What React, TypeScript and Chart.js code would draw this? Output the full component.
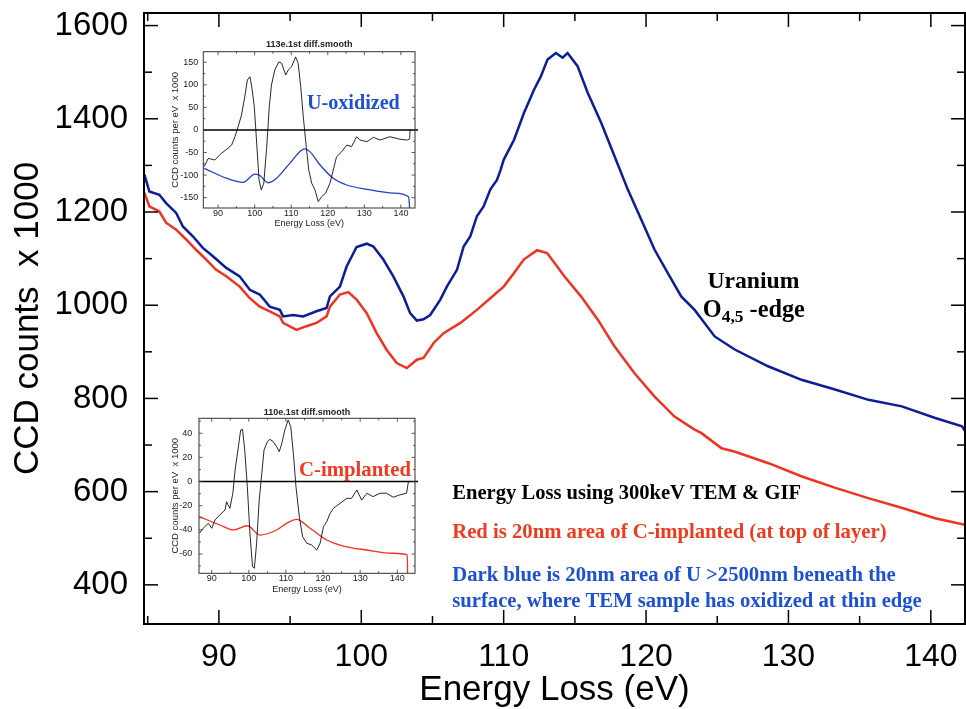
import React, { useEffect, useRef } from "react";
import { Chart, registerables } from "chart.js";

Chart.register(...registerables);

const SANS = '"Liberation Sans", Arial, Helvetica, sans-serif';
const SERIF = '"Liberation Serif", "Times New Roman", serif';

// ---------- main spectrum ----------
const X_MIN = 84.74;
const X_MAX = 142.4;
const Y_MIN = 316;
const Y_MAX = 1627;
const X_TICKS = [90, 100, 110, 120, 130, 140];
const X_MINOR = [85, 95, 105, 115, 125, 135];
const Y_TICKS = [400, 600, 800, 1000, 1200, 1400, 1600];
const Y_MINOR = [500, 700, 900, 1100, 1300, 1500];

const BLUE_E = [84.77, 85.12, 85.82, 86.29, 87.0, 87.47, 88.17, 88.87, 89.58, 90.52, 91.46, 92.17, 92.87, 93.57, 94.28, 94.51, 95.21, 95.92, 96.85, 97.56, 97.8, 98.5, 98.97, 99.67, 100.38, 100.85, 101.55, 102.25, 102.96, 103.43, 103.9, 104.37, 104.84, 105.55, 106.01, 106.72, 107.19, 107.66, 108.12, 108.59, 109.06, 109.53, 109.79, 110.0, 110.73, 111.43, 112.14, 112.61, 113.08, 113.67, 114.14, 114.49, 115.19, 115.9, 116.84, 117.78, 118.72, 119.66, 120.6, 121.53, 122.47, 123.41, 124.82, 126.23, 128.57, 130.92, 133.27, 135.62, 137.96, 140.31, 142.19, 142.4];
const BLUE_V = [1280, 1244, 1237, 1219, 1198, 1169, 1148, 1123, 1105, 1080, 1062, 1033, 1023, 997, 990, 976, 979, 976, 987, 994, 1019, 1040, 1083, 1125, 1132, 1126, 1098, 1062, 1019, 983, 967, 970, 979, 1012, 1040, 1076, 1126, 1148, 1191, 1212, 1248, 1269, 1291, 1312, 1355, 1413, 1463, 1491, 1527, 1541, 1531, 1541, 1513, 1456, 1392, 1320, 1248, 1184, 1119, 1069, 1019, 990, 933, 905, 869, 840, 819, 797, 783, 758, 740, 730];

const RED_E = [84.77, 85.12, 85.82, 86.29, 87.0, 87.7, 88.4, 89.11, 89.81, 90.52, 91.46, 92.17, 92.87, 93.57, 94.28, 94.51, 95.45, 96.15, 96.85, 97.56, 97.8, 98.5, 99.09, 99.67, 100.38, 101.08, 101.79, 102.49, 103.2, 103.9, 104.37, 105.08, 105.78, 106.96, 108.12, 109.06, 110.0, 110.7, 111.41, 112.35, 113.05, 113.76, 114.26, 115.43, 116.61, 117.78, 119.19, 120.6, 122.0, 123.41, 123.87, 125.3, 126.2, 128.6, 130.9, 133.3, 135.6, 138.0, 140.3, 142.4];
const RED_V = [1241, 1212, 1201, 1177, 1162, 1141, 1119, 1098, 1076, 1062, 1040, 1015, 997, 987, 976, 962, 947, 955, 962, 976, 997, 1023, 1028, 1012, 983, 940, 904, 876, 865, 883, 887, 919, 940, 962, 990, 1015, 1040, 1068, 1098, 1118, 1112, 1083, 1062, 1019, 969, 912, 854, 804, 761, 733, 726, 693, 686, 661, 633, 608, 586, 565, 543, 529];

// ---------- inset 1 : U-oxidized ----------
const IN1_X_MIN = 85.95;
const IN1_X_MAX = 143.86;
const IN1_Y_MIN = -173;
const IN1_Y_MAX = 173.5;
const IN_X_TICKS = [90, 100, 110, 120, 130, 140];
const IN_X_MINOR = [95, 105, 115, 125, 135];
const IN1_Y_TICKS = [-150, -100, -50, 0, 50, 100, 150];
const IN1_Y_MINOR = [-125, -75, -25, 25, 75, 125];

const IN1_BLACK_E = [86.2, 87.3, 89.1, 90.9, 92.7, 93.7, 94.6, 95.2, 96.4, 97.3, 98.0, 98.7, 99.2, 99.9, 100.5, 101.2, 101.8, 102.5, 103.3, 104.0, 104.6, 105.5, 106.6, 107.4, 108.0, 108.5, 109.2, 110.1, 111.2, 111.9, 112.6, 113.3, 114.2, 114.8, 115.6, 116.5, 117.4, 118.3, 119.4, 120.6, 121.5, 122.4, 123.8, 125.2, 126.5, 127.9, 128.8, 130.7, 132.5, 134.3, 137.0, 139.8, 141.8, 142.4, 142.5];
const IN1_BLACK_V = [-81.5, -63, -66.6, -51.8, -40.7, -33.4, -15, 0, 33, 73.7, 110.8, 118, 96, 51.6, -22.3, -111, -133, -118, -37, 51.6, 99.7, 133, 151, 147.8, 133, 121.8, 133, 140, 162, 147.8, 96, 29.4, -44.5, -88.8, -118, -133, -159, -148, -140, -118, -88.8, -59.3, -48.2, -33.4, -37, -15, -22.3, -26, -16.3, -22.3, -15, -20.7, -22.3, -20, 0];
const IN1_BLUE_E = [86.2, 92.3, 96.8, 100.1, 101.4, 103.7, 106.0, 109.6, 113.7, 115.1, 117.9, 121.5, 125.2, 130.7, 138.0, 142.1, 142.5];
const IN1_BLUE_V = [-85, -107, -116, -98, -101, -117, -107, -74, -42, -48, -77.7, -107, -122, -131.6, -140, -148, -185];

// ---------- inset 2 : C-implanted ----------
const IN2_X_MIN = 86.58;
const IN2_X_MAX = 144.77;
const IN2_Y_MIN = -76;
const IN2_Y_MAX = 52.4;
const IN2_Y_TICKS = [-60, -40, -20, 0, 20, 40];
const IN2_Y_MINOR = [-70, -50, -30, -10, 10, 30, 50];

const IN2_BLACK_E = [86.7, 87.7, 89.1, 90.0, 90.9, 92.2, 93.6, 94.0, 94.9, 95.7, 96.3, 97.2, 97.8, 98.3, 98.9, 99.6, 100.3, 101.0, 101.5, 102.1, 102.8, 103.5, 104.1, 105.0, 105.7, 106.6, 107.5, 108.2, 108.9, 109.7, 110.6, 111.3, 112.0, 112.7, 113.6, 114.5, 115.6, 116.9, 118.3, 119.2, 120.1, 121.0, 121.9, 122.8, 124.6, 126.4, 127.7, 129.1, 130.4, 131.8, 133.5, 135.3, 137.1, 138.9, 140.7, 142.5, 143.0];
const IN2_BLACK_V = [-42.8, -38.7, -34.6, -38.7, -31.8, -27.7, -23.5, -16.7, -22.2, -9.7, 9.6, 28.9, 42.7, 43.3, 26.2, -4.2, -42.8, -70.5, -71.8, -51.1, -15.3, 6.9, 26.2, 33, 35, 33, 28.9, 24.8, 31.7, 42.7, 51, 45.5, 23.4, -4.2, -29.1, -45.7, -51.1, -52.5, -56.7, -51.1, -37.4, -33.2, -26.3, -22.2, -18, -13.9, -13.9, -7, -15.3, -9.7, -12.5, -9.7, -9.7, -13, -11, -9.7, 0];
const IN2_RED_E = [86.7, 92.2, 95.8, 99.6, 103.0, 107.5, 110.2, 112.9, 116.5, 121.0, 125.5, 131.8, 138.9, 142.7, 142.8];
const IN2_RED_V = [-29.1, -36, -40.1, -36.6, -44.3, -40.1, -34.6, -31.3, -38.7, -48.4, -53.4, -56.7, -59.4, -60.8, -85];

const BLUE_LINE = "#0B1E98";
const RED_LINE = "#EE3322";
const TEXT_BLUE = "#1E50D4";
const TEXT_RED = "#F03A1E";

const pts = (xs: number[], ys: number[]) => xs.map((x, i) => ({ x, y: ys[i] }));
const plain = (v: any) => String(v);

const zeroPad = (s: any) => {
  s.paddingLeft = 0;
  s.paddingRight = 0;
  s.paddingTop = 0;
  s.paddingBottom = 0;
};

const frameTicks = {
  id: "frameTicks",
  afterDatasetsDraw(chart: any, _args: any, o: any) {
    const { ctx, chartArea: a, scales } = chart;
    const xs = scales.x;
    const ys = scales.y;
    ctx.save();
    ctx.strokeStyle = o.color || "#000";
    const seg = (x1: number, y1: number, x2: number, y2: number) => {
      ctx.beginPath();
      ctx.moveTo(x1, y1);
      ctx.lineTo(x2, y2);
      ctx.stroke();
    };
    if (o.zeroLine) {
      const py = ys.getPixelForValue(0);
      ctx.lineWidth = o.zeroWidth;
      ctx.strokeStyle = "#000";
      seg(a.left, py, a.right + (o.zeroExtend || 0), py);
      ctx.strokeStyle = o.color || "#000";
    }
    ctx.lineWidth = o.tickWidth;
    const doX = (vals: number[], len: number) =>
      vals.forEach((v) => {
        const p = xs.getPixelForValue(v);
        seg(p, a.bottom, p, a.bottom - len);
        seg(p, a.top, p, a.top + len);
      });
    const doY = (vals: number[], len: number) =>
      vals.forEach((v) => {
        const p = ys.getPixelForValue(v);
        seg(a.left, p, a.left + len, p);
        seg(a.right, p, a.right - len, p);
      });
    doX(o.xMajor, o.major);
    doX(o.xMinor, o.minor);
    doY(o.yMajor, o.major);
    doY(o.yMinor, o.minor);
    ctx.lineWidth = o.frameWidth;
    ctx.strokeRect(a.left, a.top, a.right - a.left, a.bottom - a.top);
    ctx.restore();
  },
};

const textPlugin = {
  id: "texts",
  afterDraw(chart: any, _args: any, o: any) {
    const { ctx, chartArea: a, scales } = chart;
    (o.items || []).forEach((it: any) => {
      ctx.save();
      const x = it.area ? (a.left + a.right) / 2 : scales.x.getPixelForValue(it.x);
      const y = it.area ? a.top + it.dy : scales.y.getPixelForValue(it.y);
      ctx.textBaseline = "middle";
      ctx.textAlign = "left";
      const segs = it.segs || [{ t: it.text }];
      const fam = it.family || SERIF;
      const weight = it.weight || "bold";
      const fontFor = (s: number, sub: boolean) => `${weight} ${sub ? s * 0.72 : s}px ${fam}`;
      const measure = (s: number) =>
        segs.reduce((w: number, g: any) => {
          ctx.font = fontFor(s, g.sub);
          return w + ctx.measureText(g.t).width;
        }, 0);
      let size = it.size;
      if (it.width) size = (size * it.width) / measure(size);
      const total = measure(size);
      let cx = it.align === "center" ? x - total / 2 : x;
      ctx.fillStyle = it.color;
      segs.forEach((g: any) => {
        ctx.font = fontFor(size, g.sub);
        ctx.fillText(g.t, cx, y + (g.sub ? size * 0.3 : 0));
        cx += ctx.measureText(g.t).width;
      });
      ctx.restore();
    });
  },
};

function useChart(ref: React.RefObject<HTMLCanvasElement | null>, make: () => any) {
  useEffect(() => {
    if (!ref.current) return;
    const chart = new Chart(ref.current, make());
    return () => chart.destroy();
  }, []);
}

function insetConfig(p: any) {
  return {
    type: "line",
    data: { datasets: p.datasets },
    options: {
      responsive: false,
      animation: false,
      events: [],
      layout: { padding: p.padding },
      plugins: {
        legend: { display: false },
        tooltip: { enabled: false },
        frameTicks: {
          xMajor: IN_X_TICKS,
          xMinor: IN_X_MINOR,
          yMajor: p.yTicks,
          yMinor: p.yMinor,
          major: 3.5,
          minor: 2,
          tickWidth: 0.8,
          frameWidth: 1,
          color: "#333",
          zeroLine: true,
          zeroWidth: 1.4,
          zeroExtend: 3,
        },
        texts: { items: p.texts },
      },
      scales: {
        x: {
          type: "linear",
          min: p.xMin,
          max: p.xMax,
          afterBuildTicks: (s: any) => {
            s.ticks = IN_X_TICKS.map((v) => ({ value: v }));
          },
          afterFit: (s: any) => {
            s.height = p.xHeight;
            zeroPad(s);
          },
          grid: { display: false, drawTicks: false },
          border: { display: false },
          ticks: { font: { family: SANS, size: 9 }, color: "#222", padding: 0, maxRotation: 0, autoSkip: false, callback: plain },
          title: { display: true, text: "Energy Loss (eV)", font: { family: SANS, size: 9 }, color: "#222", padding: { top: 0, bottom: p.xTitlePad } },
        },
        y: {
          type: "linear",
          min: p.yMin,
          max: p.yMax,
          afterBuildTicks: (s: any) => {
            s.ticks = p.yTicks.map((v: number) => ({ value: v }));
          },
          afterFit: (s: any) => {
            s.width = p.yWidth;
            zeroPad(s);
          },
          grid: { display: false, drawTicks: false },
          border: { display: false },
          ticks: { font: { family: SANS, size: 9 }, color: "#222", padding: p.yLabelPad, autoSkip: false, callback: plain },
          title: { display: true, text: "CCD counts per eV  x 1000", font: { family: SANS, size: 9.5 }, color: "#222", padding: { top: p.yTitlePad, bottom: 0 } },
        },
      },
    },
    plugins: [frameTicks, textPlugin],
  };
}

export default function App() {
  const mainRef = useRef<HTMLCanvasElement | null>(null);
  const in1Ref = useRef<HTMLCanvasElement | null>(null);
  const in2Ref = useRef<HTMLCanvasElement | null>(null);

  useChart(mainRef, () => ({
    type: "line",
    data: {
      datasets: [
        { data: pts(RED_E, RED_V), borderColor: RED_LINE, borderWidth: 2.5, pointRadius: 0, tension: 0 },
        { data: pts(BLUE_E, BLUE_V), borderColor: BLUE_LINE, borderWidth: 2.5, pointRadius: 0, tension: 0 },
      ],
    },
    options: {
      responsive: false,
      animation: false,
      events: [],
      layout: { padding: { left: 0, top: 13, right: 1, bottom: 0 } },
      plugins: {
        legend: { display: false },
        tooltip: { enabled: false },
        frameTicks: {
          xMajor: X_TICKS,
          xMinor: X_MINOR,
          yMajor: Y_TICKS,
          yMinor: Y_MINOR,
          major: 14,
          minor: 8,
          tickWidth: 1.5,
          frameWidth: 2,
          color: "#000",
        },
        texts: {
          items: [
            { text: "Uranium", x: 127.54, y: 1050, align: "center", size: 23, width: 92, color: "#000" },
            { segs: [{ t: "O" }, { t: "4,5", sub: true }, { t: " -edge" }], x: 123.99, y: 989, size: 23, width: 102, color: "#000" },
            { text: "Energy Loss using 300keV TEM & GIF", x: 106.39, y: 596.4, size: 20, width: 349, color: "#000" },
            { text: "Red is 20nm area of C-implanted (at top of layer)", x: 106.39, y: 511.6, size: 20, width: 434.6, color: TEXT_RED },
            { text: "Dark blue is 20nm area of U >2500nm beneath the", x: 106.39, y: 419.3, size: 20, width: 443.7, color: TEXT_BLUE },
            { text: "surface, where TEM sample has oxidized at thin edge", x: 106.39, y: 364.6, size: 20, width: 469.8, color: TEXT_BLUE },
          ],
        },
      },
      scales: {
        x: {
          type: "linear",
          min: X_MIN,
          max: X_MAX,
          afterBuildTicks: (s: any) => {
            s.ticks = X_TICKS.map((v) => ({ value: v }));
          },
          afterFit: (s: any) => {
            s.height = 85;
            zeroPad(s);
          },
          grid: { display: false, drawTicks: false },
          border: { display: false },
          ticks: { font: { family: SANS, size: 32 }, color: "#000", padding: 14, maxRotation: 0, autoSkip: false, callback: plain },
          title: { display: true, text: "Energy Loss (eV)", font: { family: SANS, size: 35, lineHeight: 0.9 }, color: "#000", padding: { top: 0, bottom: 3 } },
        },
        y: {
          type: "linear",
          min: Y_MIN,
          max: Y_MAX,
          afterBuildTicks: (s: any) => {
            s.ticks = Y_TICKS.map((v) => ({ value: v }));
          },
          afterFit: (s: any) => {
            s.width = 144;
            zeroPad(s);
          },
          grid: { display: false, drawTicks: false },
          border: { display: false },
          ticks: { font: { family: SANS, size: 33 }, color: "#000", padding: 16, autoSkip: false, callback: plain },
          title: { display: true, text: "CCD counts  x 1000", font: { family: SANS, size: 35, lineHeight: 1 }, color: "#000", padding: { top: 10.5, bottom: 0 } },
        },
      },
    },
    plugins: [frameTicks, textPlugin],
  }));

  useChart(in1Ref, () =>
    insetConfig({
      datasets: [
        { data: pts(IN1_BLACK_E, IN1_BLACK_V), borderColor: "#111", borderWidth: 0.9, pointRadius: 0, tension: 0 },
        { data: pts(IN1_BLUE_E, IN1_BLUE_V), borderColor: "#1F3FBF", borderWidth: 1.3, pointRadius: 0, cubicInterpolationMode: "monotone" },
      ],
      padding: { left: 0, top: 15.7, right: 7, bottom: 0 },
      xMin: IN1_X_MIN,
      xMax: IN1_X_MAX,
      yMin: IN1_Y_MIN,
      yMax: IN1_Y_MAX,
      yTicks: IN1_Y_TICKS,
      yMinor: IN1_Y_MINOR,
      xHeight: 24,
      yWidth: 43.3,
      xTitlePad: 2.6,
      yLabelPad: 5,
      yTitlePad: 9.5,
      texts: [
        { area: true, dy: -7, text: "113e.1st diff.smooth", size: 9, family: SANS, weight: "bold", color: "#222", align: "center" },
        { text: "U-oxidized", x: 127.0, y: 57.5, align: "center", size: 20, width: 93, color: TEXT_BLUE },
      ],
    })
  );

  useChart(in2Ref, () =>
    insetConfig({
      datasets: [
        { data: pts(IN2_BLACK_E, IN2_BLACK_V), borderColor: "#111", borderWidth: 0.9, pointRadius: 0, tension: 0 },
        { data: pts(IN2_RED_E, IN2_RED_V), borderColor: "#F03020", borderWidth: 1.3, pointRadius: 0, cubicInterpolationMode: "monotone" },
      ],
      padding: { left: 0, top: 15.3, right: 7, bottom: 0 },
      xMin: IN2_X_MIN,
      xMax: IN2_X_MAX,
      yMin: IN2_Y_MIN,
      yMax: IN2_Y_MAX,
      yTicks: IN2_Y_TICKS,
      yMinor: IN2_Y_MINOR,
      xHeight: 29.7,
      yWidth: 41,
      xTitlePad: 7.6,
      yLabelPad: 6.7,
      yTitlePad: 11.5,
      texts: [
        { area: true, dy: -6, text: "110e.1st diff.smooth", size: 9, family: SANS, weight: "bold", color: "#222", align: "center" },
        { text: "C-implanted", x: 128.6, y: 9, align: "center", size: 21, width: 112, color: TEXT_RED },
      ],
    })
  );

  return (
    <div style={{ position: "absolute", left: 0, top: 0, width: 966, height: 709, background: "#fff", overflow: "hidden" }}>
      <canvas ref={mainRef} width={966} height={709} style={{ position: "absolute", left: 0, top: 0 }} />
      <canvas ref={in1Ref} width={262} height={196} style={{ position: "absolute", left: 160, top: 36 }} />
      <canvas ref={in2Ref} width={264} height={200} style={{ position: "absolute", left: 158, top: 403 }} />
    </div>
  );
}
